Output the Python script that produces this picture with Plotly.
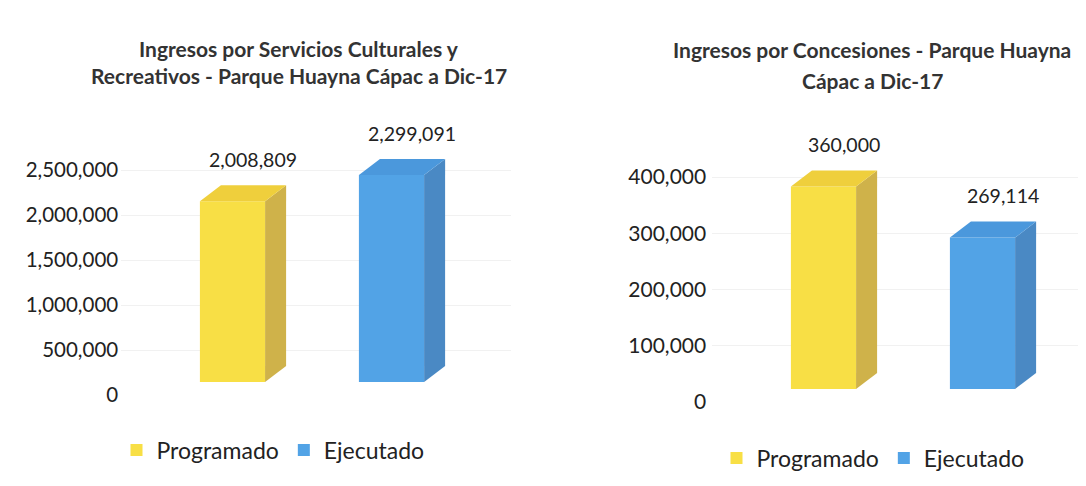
import plotly.graph_objects as go

# ---- data ----
series = ["Programado", "Ejecutado"]
left_title = ["Ingresos por Servicios Culturales y", "Recreativos - Parque Huayna Cápac a Dic-17"]
left_values = [2008809, 2299091]
left_ticks = [0, 500000, 1000000, 1500000, 2000000, 2500000]
right_title = ["Ingresos por Concesiones - Parque Huayna", "Cápac a Dic-17"]
right_values = [360000, 269114]
right_ticks = [0, 100000, 200000, 300000, 400000]

front_colors = ["#F8DF45", "#52A3E6"]
side_colors = ["#CFB24A", "#4A89C4"]
top_colors = ["#EFCF3C", "#4B98DC"]

W, H = 1086, 486
FONT = "Lato"

fig = go.Figure()

BAR_W = 0.41
XPOS = [0, 1]
PX_PER_X = 159.0
DEPTH_PX_X = 21.0
DEPTH_PX_Y = 16.0


def add_chart(values, ticks, xa, ya, yb, legend, y_px_per_unit, zero_px, top_px, lift_px, dom_x, xr, tfs, standoff):
    lift = lift_px / y_px_per_unit
    ymax = (zero_px - top_px) / y_px_per_unit
    dom_y = [1 - zero_px / H, 1 - top_px / H]
    fig.update_layout({
        f"xaxis{xa[1:]}": dict(domain=dom_x, range=xr, visible=False, anchor=ya, fixedrange=True),
        f"yaxis{ya[1:]}": dict(domain=dom_y, range=[0, ymax], autorange=False, anchor=xa,
                                tickvals=ticks, tickformat=",", showgrid=True, gridcolor="#f1f1f1",
                                zeroline=False, showline=False, ticks="", ticklabelstandoff=standoff,
                                showticklabels=True, automargin=False, fixedrange=True,
                                tickfont=dict(family=FONT, size=tfs, color="#222")),
        f"yaxis{yb[1:]}": dict(range=[-lift, ymax - lift], autorange=False, overlaying=ya,
                                anchor=xa, visible=False, fixedrange=True),
    })
    # empty trace so the tick axis is registered as a drawn axis
    fig.add_trace(go.Scatter(x=[], y=[], xaxis=xa, yaxis=ya, showlegend=False, hoverinfo="skip"))
    dx = DEPTH_PX_X / PX_PER_X
    dy = DEPTH_PX_Y / y_px_per_unit
    for i, (name, v) in enumerate(zip(series, values)):
        fig.add_trace(go.Bar(x=[XPOS[i]], y=[v], width=BAR_W, name=name,
                             marker=dict(color=front_colors[i], line=dict(width=0)),
                             xaxis=xa, yaxis=yb, legend=legend, hoverinfo="skip"))
        x0 = XPOS[i] - BAR_W / 2
        x1 = XPOS[i] + BAR_W / 2
        fig.add_shape(type="path", xref=xa, yref=yb, layer="above",
                      path=f"M {x1} 0 L {x1 + dx} {dy} L {x1 + dx} {v + dy} L {x1} {v} Z",
                      fillcolor=side_colors[i], line=dict(width=0))
        fig.add_shape(type="path", xref=xa, yref=yb, layer="above",
                      path=f"M {x0} {v} L {x0 + dx} {v + dy} L {x1 + dx} {v + dy} L {x1} {v} Z",
                      fillcolor=top_colors[i], line=dict(width=0))
        fig.add_annotation(x=XPOS[i] + dx / 2 + 0.06, y=v + dy, xref=xa, yref=yb,
                           text=f"{v:,}", showarrow=False, yanchor="middle", yshift=26,
                           font=dict(family=FONT, size=19.5, color="#222"))


# left chart: 0 at px 395, 90 px per 1M
add_chart(left_values, left_ticks, "x", "y", "y3", "legend", 90 / 1e6, 395, 110, 13,
          [121.2 / W, 510.75 / W], [-0.7, 1.75], 20.5, 2)
# right chart: 0 at px 402, 56.25 px per 100k
add_chart(right_values, right_ticks, "x2", "y2", "y4", "legend2", 56.25 / 1e5, 402, 120, 13,
          [712.2 / W, 1077.9 / W], [-0.7, 1.6], 21, 5)

for txt, cx, cy in [(left_title[0], 299, 48), (left_title[1], 299, 76),
                    (right_title[0], 872, 50), (right_title[1], 872, 80)]:
    fig.add_annotation(x=cx / W, y=1 - cy / H, xref="paper", yref="paper", text=f"<b>{txt}</b>",
                       showarrow=False, xanchor="center", yanchor="middle",
                       font=dict(family=FONT, size=21, color="#333"))

fig.update_layout(
    width=W, height=H, margin=dict(l=0, r=0, t=0, b=0, autoexpand=False),
    paper_bgcolor="white", plot_bgcolor="white", barmode="overlay",
    legend=dict(orientation="h", x=273 / W, y=1 - 450 / H, xanchor="center", yanchor="middle",
                font=dict(family=FONT, size=23, color="#222"), bgcolor="rgba(0,0,0,0)"),
    legend2=dict(orientation="h", x=873 / W, y=1 - 458 / H, xanchor="center", yanchor="middle",
                 font=dict(family=FONT, size=23, color="#222"), bgcolor="rgba(0,0,0,0)"),
)

fig.write_html("out.html", config={"displayModeBar": False},
               post_script="document.body.style.margin='0px';")
